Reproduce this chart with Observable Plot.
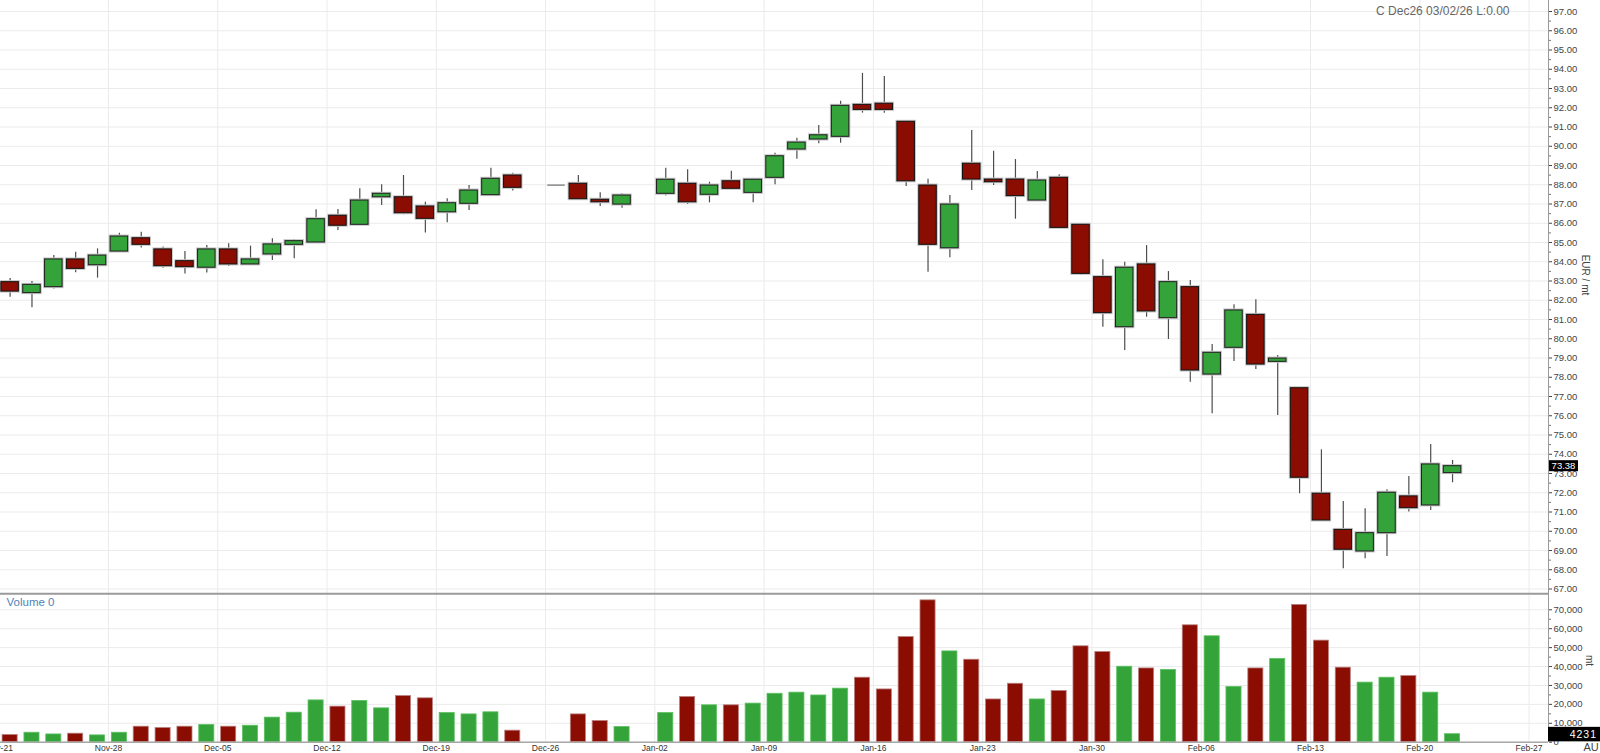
<!DOCTYPE html>
<html>
<head>
<meta charset="utf-8">
<script src="https://cdn.jsdelivr.net/npm/d3@7"></script>
<script src="https://cdn.jsdelivr.net/npm/@observablehq/plot@0.6"></script>
<style>
  html, body { margin: 0; padding: 0; background: #fff; }
  #chart { width: 1600px; height: 753px; overflow: hidden; line-height: 0; }
  #chart svg { display: block; }
</style>
</head>
<body>
<div id="chart"></div>
<script>
// Trading-day slot (weekdays from Fri Nov-21; holiday slots 24 and 29 are absent)
const dayIndex = [0,1,2,3,4,5,6,7,8,9,10,11,12,13,14,15,16,17,18,19,20,21,22,23,25,26,27,28,30,31,32,33,34,35,36,37,38,39,40,41,42,43,44,45,46,47,48,49,50,51,52,53,54,55,56,57,58,59,60,61,62,63,64,65,66];
const openP  = [82.94,82.37,82.68,84.12,83.82,84.53,85.22,84.64,84.03,83.69,84.64,83.86,84.38,84.88,85.00,86.39,85.92,87.35,87.35,86.87,86.57,87.01,87.46,88.48,87.98,88.05,87.22,86.97,87.53,88.05,87.48,88.18,87.58,88.36,89.83,90.35,90.49,92.15,92.21,91.27,87.96,84.70,89.09,88.27,88.27,87.18,88.36,85.92,83.20,80.60,83.86,81.07,82.68,78.14,79.53,81.24,78.80,77.43,71.95,70.07,68.95,69.90,71.81,71.34,73.02];
const highP  = [83.13,82.97,84.32,84.50,84.67,85.48,85.53,84.76,84.53,84.84,84.93,84.81,85.19,85.16,86.70,86.71,87.79,88.00,88.48,87.09,87.27,87.96,88.86,88.60,87.98,88.48,87.58,87.53,88.86,88.78,88.13,88.70,88.30,89.64,90.42,91.08,92.34,93.79,93.62,91.27,88.29,87.44,90.82,89.74,89.31,88.69,88.52,85.97,84.10,83.98,84.84,83.49,83.03,79.70,81.76,82.02,79.13,77.43,74.23,71.55,71.17,72.15,72.84,74.51,73.68];
const lowP   = [82.16,81.61,82.59,83.43,83.15,84.53,84.72,83.66,83.37,83.41,83.75,83.86,84.06,84.15,85.00,85.62,85.92,86.92,86.44,85.50,86.02,86.66,87.46,87.67,87.98,87.22,86.87,86.78,87.41,86.97,87.06,87.74,87.06,88.00,89.33,90.13,90.16,91.72,91.72,87.91,83.46,84.21,87.70,87.96,86.21,87.18,85.76,83.29,80.60,79.39,81.12,79.96,77.74,76.10,78.82,78.40,76.01,71.95,70.52,68.05,68.57,68.69,71.00,71.08,72.52];
const closeP = [82.45,82.80,84.12,83.63,84.32,85.31,84.88,83.77,83.72,84.64,83.86,84.12,84.90,85.07,86.21,85.87,87.18,87.53,86.52,86.23,87.04,87.70,88.31,87.84,87.98,87.25,87.09,87.44,88.26,87.09,87.96,87.79,88.26,89.48,90.19,90.57,92.10,91.89,91.89,88.18,84.88,86.97,88.27,88.13,87.41,88.22,85.76,83.37,81.33,83.69,81.42,82.94,78.35,79.27,81.47,78.66,78.97,72.78,70.56,69.04,69.90,72.00,71.20,73.47,73.38];
const volume = [3800,5000,4100,4500,3600,5000,8200,7500,8200,9100,8200,8700,13000,15600,22100,18800,21800,17900,24400,23200,15400,14700,15800,6100,null,14700,11200,8000,15400,23900,19500,19500,20400,25600,26200,24700,28300,34100,27900,55600,75000,48000,43600,22600,30900,22600,27100,50700,47700,39900,39000,38200,61800,56000,29200,39000,44000,72600,53700,39400,31500,34100,35000,26200,4231];
// Weekly (Friday) tick labels
const weekLabels = ["Nov-21","Nov-28","Dec-05","Dec-12","Dec-19","Dec-26","Jan-02","Jan-09","Jan-16","Jan-23","Jan-30","Feb-06","Feb-13","Feb-20","Feb-27"];
const priceTicks = d3.range(67, 98, 1);
const volumeTicks = d3.range(0, 70001, 10000);
const lastPrice = 73.38;
const lastVolume = 4231;
const headerText = "C Dec26 03/02/26 L:0.00";

const RED = "#8b0c00", GREEN = "#34a43a", GRID = "#ebebeb";
const FONT = "'Liberation Sans', Arial, sans-serif";

const rows = dayIndex.map((i, k) => ({i, open: openP[k], high: highP[k], low: lowP[k], close: closeP[k], vol: volume[k]}));
const bodies = rows.filter(d => d.open !== d.close);
const ups = bodies.filter(d => d.close > d.open);
const downs = bodies.filter(d => d.close < d.open);
const dojis = rows.filter(d => d.open === d.close);
const weeks = weekLabels.map((label, k) => ({x: k * 5 - 0.5, label}));
const vols = rows.filter(d => d.vol != null);

const xDomain = [-0.44, 70.39];
const bw = 0.4, vw = 0.345;

const price = Plot.plot({
  width: 1600, height: 593,
  marginLeft: 0, marginRight: 52, marginTop: 11, marginBottom: 4.5,
  x: {domain: xDomain, axis: null},
  y: {domain: [67, 97]},
  style: {fontFamily: FONT, background: "#fff", overflow: "visible"},
  marks: [
    Plot.gridY(priceTicks, {stroke: GRID, strokeOpacity: 1}),
    Plot.ruleX(weeks, {x: "x", y1: 66.7, y2: 97.7, stroke: GRID}),
    Plot.ruleX(rows.filter(d => d.high !== d.low), {x: "i", y1: "low", y2: "high", stroke: "#4d4d4d", strokeWidth: 1.2}),
    Plot.rect(bodies, {x1: d => d.i - bw, x2: d => d.i + bw, y1: "open", y2: "close", fill: "none", stroke: "#c4c4c4", strokeWidth: 3}),
    Plot.rect(ups, {x1: d => d.i - bw, x2: d => d.i + bw, y1: "open", y2: "close", fill: GREEN, stroke: "#1e1e1e", strokeWidth: 1}),
    Plot.rect(downs, {x1: d => d.i - bw, x2: d => d.i + bw, y1: "open", y2: "close", fill: RED, stroke: "#111", strokeWidth: 1}),
    Plot.ruleY(dojis, {y: "close", x1: d => d.i - bw, x2: d => d.i + bw, stroke: "#8a8a8a", strokeWidth: 1.5}),
    Plot.ruleX([xDomain[1]], {y1: 66.7, y2: 97.7, stroke: "#9a9a9a", strokeWidth: 1}),
    Plot.axisY({anchor: "right", ticks: priceTicks, tickFormat: d => d.toFixed(2), tickSize: 3, tickPadding: 2, fontSize: 9.5, color: "#444", label: null}),
    Plot.axisY({anchor: "right", ticks: d3.range(67.5, 97, 1), tickFormat: () => "", tickSize: 2, color: "#777", label: null}),
    Plot.text([headerText], {frameAnchor: "top-right", dx: -39, dy: 0, lineAnchor: "middle", textAnchor: "end", fontSize: 12, fill: "#666"}),
    Plot.text(["EUR / mt"], {frameAnchor: "right", dx: 37, dy: -5, rotate: 90, fontSize: 10, fill: "#444"})
  ]
});

const vol = Plot.plot({
  width: 1600, height: 160,
  marginLeft: 0, marginRight: 52, marginTop: 16.3, marginBottom: 11.3,
  x: {domain: xDomain, axis: null},
  y: {domain: [0, 70000]},
  style: {fontFamily: FONT, background: "#fff", overflow: "visible"},
  marks: [
    Plot.gridY(volumeTicks, {stroke: GRID, strokeOpacity: 1}),
    Plot.ruleX(weeks, {x: "x", y1: 0, y2: 78600, stroke: GRID}),
    Plot.rect(vols.filter(d => d.close >= d.open), {x1: d => d.i - vw, x2: d => d.i + vw, y1: 0, y2: "vol", fill: GREEN, stroke: "#5cc060", strokeWidth: 0.8}),
    Plot.rect(vols.filter(d => d.close < d.open), {x1: d => d.i - vw, x2: d => d.i + vw, y1: 0, y2: "vol", fill: RED, stroke: "#b88080", strokeWidth: 0.8}),
    Plot.ruleY([0], {stroke: "#a8a8a8", strokeWidth: 1.5}),
    Plot.ruleX([xDomain[1]], {y1: 0, y2: 78600, stroke: "#9a9a9a", strokeWidth: 1}),
    Plot.axisY({anchor: "right", ticks: volumeTicks, tickFormat: d3.format(","), tickSize: 3, tickPadding: 2, fontSize: 9.5, color: "#444", label: null}),
    Plot.axisY({anchor: "right", ticks: d3.range(5000, 70000, 10000), tickFormat: () => "", tickSize: 2, color: "#777", label: null}),
    Plot.text(weeks, {x: "x", text: "label", frameAnchor: "bottom", dy: 6.5, lineAnchor: "middle", fontSize: 8.5, fill: "#333", style: "letter-spacing:0.4px"}),
    Plot.text(["Volume 0"], {frameAnchor: "top-left", dx: 6, dy: -7.6, lineAnchor: "middle", textAnchor: "start", fontSize: 11.5, fill: "#4f83b9"}),
    Plot.text(["mt"], {frameAnchor: "right", dx: 41, dy: -10, rotate: 90, fontSize: 10, fill: "#444"}),
    Plot.text(["AU"], {frameAnchor: "bottom-right", dx: 35, dy: 5.5, lineAnchor: "middle", textAnchor: "start", fontSize: 11, fill: "#444"})
  ]
});

// separator line between panels
d3.select(vol).append("line").attr("x1", 0).attr("x2", 1548).attr("y1", 0.8).attr("y2", 0.8)
  .attr("stroke", "#9a9a9a").attr("stroke-width", 2);

// last-value badges
function badge(svg, yPix, x1, x2, h, label, fs, anchorEnd) {
  const g = d3.select(svg).append("g");
  g.append("rect").attr("x", x1).attr("y", yPix - h / 2).attr("width", x2 - x1).attr("height", h).attr("fill", "#000");
  g.append("text").attr("x", anchorEnd ? x2 - 3 : (x1 + x2) / 2).attr("y", yPix).attr("dy", "0.35em")
    .attr("text-anchor", anchorEnd ? "end" : "middle").attr("fill", "#fff").attr("font-size", fs)
    .attr("font-family", FONT).style("letter-spacing", anchorEnd ? "1px" : "0px").text(label);
}
badge(price, price.scale("y").apply(lastPrice), 1549, 1578, 11, lastPrice.toFixed(2), 9.5, false);
badge(vol, vol.scale("y").apply(0) - 7.6, 1548, 1600, 14.5, String(lastVolume), 10.5, true);

document.getElementById("chart").append(price, vol);
</script>
</body>
</html>
